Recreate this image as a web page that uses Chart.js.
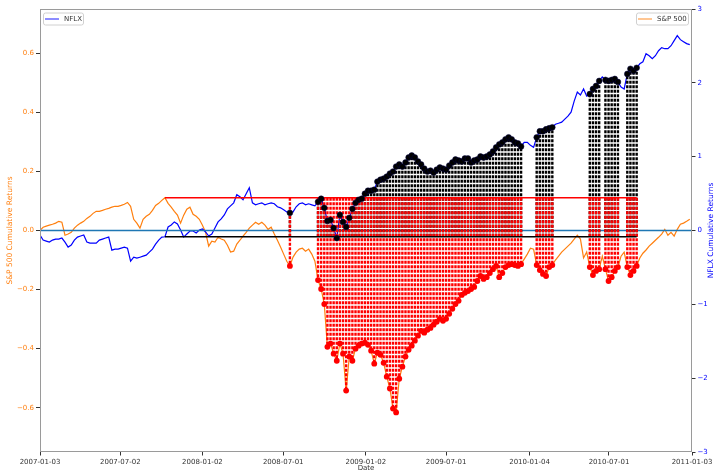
<!DOCTYPE html>
<html>
<head>
<meta charset="utf-8">
<script src="https://cdn.jsdelivr.net/npm/chart.js@4.4.0/dist/chart.umd.min.js"></script>
<style>
  html, body { margin: 0; padding: 0; background: #fff; }
  #wrap { width: 715px; height: 472px; position: relative; }
</style>
</head>
<body>
<div id="wrap"><canvas id="chart"></canvas></div>
<script>
// Weekly cumulative returns, first week starts on this date
const startDate = '2007-01-03';
const endDate = '2011-01-03';
const xTickLabels = ['2007-01-03', '2007-07-02', '2008-01-02', '2008-07-01', '2009-01-02',
  '2009-07-01', '2010-01-04', '2010-07-01', '2011-01-03'];
const leftTicks = [-0.6, -0.4, -0.2, 0, 0.2, 0.4, 0.6];
const rightTicks = [-3, -2, -1, 0, 1, 2, 3];
const drawdownLimit = -0.2;

const spReturns = [
  0.001, 0.011, 0.015, 0.018, 0.021, 0.025, 0.031, 0.028, -0.016, -0.012,
  -0.006, 0.008, 0.018, 0.025, 0.031, 0.041, 0.048, 0.058, 0.065, 0.065,
  0.068, 0.072, 0.075, 0.079, 0.082, 0.082, 0.085, 0.089, 0.095, 0.082,
  0.038, 0.025, 0.008, 0.038, 0.048, 0.055, 0.068, 0.085, 0.092, 0.102,
  0.111, 0.092, 0.079, 0.065, 0.052, 0.025, 0.052, 0.072, 0.079, 0.055,
  0.048, 0.038, 0.018, -0.006, -0.053, -0.036, -0.039, -0.023, -0.029, -0.033,
  -0.050, -0.073, -0.070, -0.046, -0.033, -0.019, -0.006, 0.008, 0.018, 0.028,
  0.021, 0.028, 0.018, 0.004, 0.011, -0.012, -0.033, -0.056, -0.080, -0.104,
  -0.120, -0.090, -0.073, -0.063, -0.060, -0.070, -0.063, -0.080, -0.104, -0.168,
  -0.198, -0.249, -0.394, -0.383, -0.417, -0.441, -0.383, -0.417, -0.542, -0.427,
  -0.441, -0.400, -0.390, -0.383, -0.380, -0.387, -0.407, -0.451, -0.414, -0.421,
  -0.448, -0.495, -0.535, -0.603, -0.616, -0.502, -0.461, -0.427, -0.404, -0.390,
  -0.373, -0.356, -0.340, -0.346, -0.336, -0.330, -0.319, -0.309, -0.299, -0.306,
  -0.299, -0.282, -0.265, -0.249, -0.238, -0.218, -0.211, -0.205, -0.198, -0.191,
  -0.171, -0.154, -0.164, -0.158, -0.144, -0.131, -0.120, -0.158, -0.144, -0.124,
  -0.117, -0.114, -0.117, -0.120, -0.114, -0.097, -0.080, -0.060, -0.063, -0.117,
  -0.134, -0.147, -0.154, -0.124, -0.117, -0.100, -0.087, -0.073, -0.063, -0.053,
  -0.043, -0.029, -0.016, -0.029, -0.093, -0.073, -0.124, -0.151, -0.137, -0.131,
  -0.087, -0.131, -0.171, -0.158, -0.137, -0.124, -0.087, -0.073, -0.124, -0.151,
  -0.137, -0.120, -0.093, -0.077, -0.066, -0.053, -0.043, -0.033, -0.023, -0.012,
  0.004, -0.016, -0.006, -0.019, 0.004, 0.021, 0.025, 0.031, 0.038
];

const nflxReturns = [
  -0.061, -0.130, -0.143, -0.157, -0.130, -0.116, -0.116, -0.102, -0.157, -0.225,
  -0.198, -0.130, -0.089, -0.075, -0.061, -0.157, -0.171, -0.171, -0.171, -0.130,
  -0.116, -0.102, -0.089, -0.266, -0.252, -0.252, -0.239, -0.225, -0.239, -0.416,
  -0.362, -0.375, -0.362, -0.348, -0.334, -0.293, -0.252, -0.184, -0.130, -0.089,
  -0.085, 0.048, 0.075, 0.116, 0.089, 0.007, -0.089, -0.048, -0.007, -0.007,
  -0.034, 0.007, 0.020, -0.020, -0.075, -0.048, 0.034, 0.116, 0.157, 0.211,
  0.293, 0.334, 0.375, 0.484, 0.457, 0.416, 0.498, 0.580, 0.375, 0.348,
  0.362, 0.375, 0.348, 0.362, 0.375, 0.362, 0.321, 0.307, 0.280, 0.252,
  0.239, 0.252, 0.321, 0.362, 0.375, 0.348, 0.362, 0.348, 0.334, 0.389,
  0.430, 0.307, 0.130, 0.143, 0.034, -0.102, 0.211, 0.116, 0.048, 0.171,
  0.293, 0.375, 0.416, 0.430, 0.498, 0.539, 0.539, 0.553, 0.662, 0.689,
  0.703, 0.730, 0.771, 0.798, 0.866, 0.894, 0.866, 0.921, 0.989, 1.016,
  0.989, 0.935, 0.894, 0.839, 0.798, 0.812, 0.784, 0.825, 0.853, 0.839,
  0.825, 0.880, 0.921, 0.962, 0.948, 0.935, 0.975, 0.975, 0.921, 0.948,
  0.962, 1.003, 0.989, 1.003, 1.030, 1.071, 1.126, 1.166, 1.194, 1.235,
  1.262, 1.235, 1.194, 1.180, 1.139, 1.194, 1.194, 1.153, 1.126, 1.262,
  1.344, 1.344, 1.371, 1.385, 1.398, 1.439, 1.453, 1.467, 1.508, 1.548,
  1.603, 1.753, 1.876, 1.835, 1.917, 1.821, 1.849, 1.917, 1.958, 2.026,
  2.081, 2.040, 2.026, 2.040, 2.053, 2.012, 1.944, 1.917, 2.121, 2.190,
  2.162, 2.203, 2.258, 2.285, 2.394, 2.367, 2.326, 2.367, 2.435, 2.476,
  2.462, 2.462, 2.503, 2.572, 2.640, 2.585, 2.558, 2.531, 2.517
];

const FONT = "'DejaVu Sans', sans-serif";
const ORANGE = '#ff7f0e';
const BLUE = '#0000ff';
const FRAME = '#9a9a9a';

const dayOffset = d => (Date.parse(d) - Date.parse(startDate)) / 86400000;
const xTickDays = xTickLabels.map(dayOffset);
const xMax = dayOffset(endDate);
const minus = s => s.replace('-', '\u2212');

const spPoints = spReturns.map((v, i) => ({ x: i * 7, y: v }));
const nflxPoints = nflxReturns.map((v, i) => ({ x: i * 7, y: v }));

// weeks where the S&P sits 20% or more under its running peak
let runMax = -Infinity, runPeakIdx = 0, peakIdx = null;
const selected = [];
spReturns.forEach((v, i) => {
  if (v > runMax) { runMax = v; runPeakIdx = i; }
  if ((1 + v) / (1 + runMax) - 1 <= drawdownLimit) {
    if (peakIdx === null) peakIdx = runPeakIdx;
    selected.push(i);
  }
});
const lastIdx = selected[selected.length - 1];
const spPeak = spReturns[peakIdx];
const nflxAtPeak = nflxReturns[peakIdx];

function hLine(ctx, x0, x1, y, color) {
  ctx.beginPath();
  ctx.setLineDash([]);
  ctx.strokeStyle = color;
  ctx.lineWidth = 1.5;
  ctx.moveTo(x0, y);
  ctx.lineTo(x1, y);
  ctx.stroke();
}

function vLines(ctx, x, scale, base, values, color) {
  ctx.strokeStyle = color;
  ctx.lineWidth = 2.4;
  ctx.setLineDash([3, 1.5]);
  const yBase = scale.getPixelForValue(base);
  selected.forEach(i => {
    const px = x.getPixelForValue(i * 7);
    ctx.beginPath();
    ctx.moveTo(px, yBase);
    ctx.lineTo(px, scale.getPixelForValue(values[i]));
    ctx.stroke();
  });
}

const overlays = {
  id: 'overlays',
  beforeDatasetDraw(chart, args) {
    if (chart.data.datasets[args.index].tag !== 'redDots') return;
    const { ctx, chartArea: a, scales: { x, y, y1 } } = chart;
    ctx.save();
    ctx.beginPath();
    ctx.rect(a.left, a.top, a.width, a.height);
    ctx.clip();
    const xs = x.getPixelForValue(peakIdx * 7);
    const xe = x.getPixelForValue(lastIdx * 7);
    hLine(ctx, a.left, a.right, y.getPixelForValue(0), '#1f77b4');
    vLines(ctx, x, y1, nflxAtPeak, nflxReturns, '#000000');
    vLines(ctx, x, y, spPeak, spReturns, '#ff0000');
    hLine(ctx, xs, xe, y.getPixelForValue(spPeak), '#ff0000');
    hLine(ctx, xs, xe, y1.getPixelForValue(nflxAtPeak), '#000000');
    ctx.restore();
  },
  afterDraw(chart) {
    const { ctx, chartArea: a } = chart;
    ctx.save();
    // frame
    ctx.strokeStyle = FRAME;
    ctx.lineWidth = 1;
    ctx.setLineDash([]);
    ctx.strokeRect(Math.round(a.left) + 0.5, Math.round(a.top) + 0.5,
      Math.round(a.width) - 1, Math.round(a.height) - 1);

    // legends
    ctx.font = '7px ' + FONT;
    ctx.textBaseline = 'middle';
    const legend = (x0, w, label, color) => {
      const y0 = a.top + 3.5, h = 12;
      ctx.fillStyle = 'rgba(255,255,255,0.8)';
      ctx.strokeStyle = '#d0d0d0';
      ctx.lineWidth = 1;
      ctx.beginPath();
      ctx.roundRect(x0 + 0.5, y0 + 0.5, w, h, 2);
      ctx.fill();
      ctx.stroke();
      ctx.strokeStyle = color;
      ctx.globalAlpha = 0.6;
      ctx.lineWidth = 1.5;
      ctx.beginPath();
      ctx.moveTo(x0 + 2, y0 + h / 2 + 0.5);
      ctx.lineTo(x0 + 16, y0 + h / 2 + 0.5);
      ctx.stroke();
      ctx.globalAlpha = 1;
      ctx.fillStyle = '#333';
      ctx.fillText(label, x0 + 21, y0 + h / 2 + 0.5);
    };
    legend(a.left + 3, 40, 'NFLX', BLUE);
    legend(a.right - 56, 52, 'S&P 500', ORANGE);

    // right axis title, reading bottom to top
    ctx.translate(711, (a.top + a.bottom) / 2);
    ctx.rotate(-Math.PI / 2);
    ctx.font = '7.5px ' + FONT;
    ctx.fillStyle = BLUE;
    ctx.textAlign = 'center';
    ctx.fillText('NFLX Cumulative Returns', 0, 0);
    ctx.restore();
  }
};

new Chart(document.getElementById('chart'), {
  type: 'line',
  data: {
    datasets: [
      { tag: 'sp', label: 'S&P 500', data: spPoints, yAxisID: 'y', borderColor: ORANGE,
        borderWidth: 1.2, pointRadius: 0, order: 7 },
      { tag: 'nflx', label: 'NFLX', data: nflxPoints, yAxisID: 'y1', borderColor: BLUE,
        borderWidth: 1.2, pointRadius: 0, order: 6 },
      { tag: 'redDots', data: selected.map(i => spPoints[i]), yAxisID: 'y', showLine: false,
        pointRadius: 2.9, pointBackgroundColor: '#ff0000', pointBorderColor: '#ff0000',
        pointBorderWidth: 0, order: 5 },
      { tag: 'blackDots', data: selected.map(i => nflxPoints[i]), yAxisID: 'y1', showLine: false,
        pointRadius: 2.9, pointBackgroundColor: '#000000', pointBorderColor: '#000044',
        pointBorderWidth: 0.5, order: 4 }
    ]
  },
  options: {
    responsive: true,
    maintainAspectRatio: false,
    animation: false,
    layout: { padding: { top: 9, left: 0, right: 0, bottom: 0 } },
    plugins: { legend: { display: false }, tooltip: { enabled: false } },
    scales: {
      x: {
        type: 'linear',
        min: 0,
        max: xMax,
        afterBuildTicks: s => { s.ticks = xTickDays.map(v => ({ value: v })); },
        afterFit: s => { s.height = 20; },
        grid: { drawOnChartArea: false, drawTicks: true, tickLength: 3.5, color: '#333' },
        border: { display: false },
        ticks: {
          autoSkip: false, maxRotation: 0, padding: 2, color: '#333',
          font: { family: FONT, size: 7 },
          callback: (v, i) => xTickLabels[i]
        },
        title: { display: true, text: 'Date', color: '#333',
          font: { family: FONT, size: 7, lineHeight: 1 }, padding: { top: 0, bottom: 0 } }
      },
      y: {
        position: 'left',
        min: -0.75,
        max: 0.75,
        afterBuildTicks: s => { s.ticks = leftTicks.map(v => ({ value: v })); },
        afterFit: s => { s.width = 40; },
        grid: { drawOnChartArea: false, drawTicks: true, tickLength: 4, color: '#333' },
        border: { display: false },
        ticks: { padding: 2, color: ORANGE, font: { family: FONT, size: 7 },
          callback: v => minus(v.toFixed(1)) },
        title: { display: true, text: 'S&P 500 Cumulative Returns', color: ORANGE,
          font: { family: FONT, size: 7.5 }, padding: { top: 6, bottom: 0 } }
      },
      y1: {
        position: 'right',
        min: -3,
        max: 3,
        afterBuildTicks: s => { s.ticks = rightTicks.map(v => ({ value: v })); },
        afterFit: s => { s.width = 23; },
        grid: { drawOnChartArea: false, drawTicks: true, tickLength: 3.5, color: '#333' },
        border: { display: false },
        ticks: { padding: 2, color: BLUE, font: { family: FONT, size: 7 },
          callback: v => minus(String(v)) }
      }
    }
  },
  plugins: [overlays]
});
</script>
</body>
</html>
